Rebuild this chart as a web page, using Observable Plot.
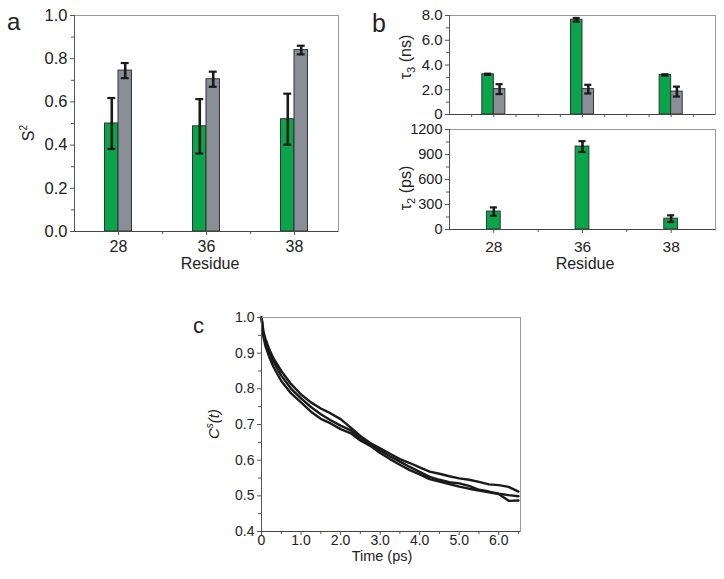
<!DOCTYPE html>
<html><head><meta charset="utf-8">
<script src="https://cdn.jsdelivr.net/npm/d3@7"></script>
<script src="https://cdn.jsdelivr.net/npm/@observablehq/plot@0.6"></script>
<style>
body{margin:0;background:#fff;font-family:"Liberation Sans",Arial,sans-serif;}
#root{position:relative;width:724px;height:579px;overflow:hidden;background:#fff;}
#root > svg{position:absolute;overflow:visible;}
#overlay{left:0;top:0;pointer-events:none;}
</style></head><body><div id="root"></div>
<script>
// ---------- data ----------
const residues = ["28", "36", "38"];
const s2Green = [0.50, 0.487, 0.52];
const s2GreenErr = [0.118, 0.126, 0.118];
const s2Grey = [0.745, 0.705, 0.84];
const s2GreyErr = [0.035, 0.035, 0.02];
const tau3Green = [3.25, 7.65, 3.2];
const tau3GreenErr = [0.05, 0.15, 0.05];
const tau3Grey = [2.05, 2.05, 1.85];
const tau3GreyErr = [0.4, 0.35, 0.4];
const tau2Green = [215, 995, 130];
const tau2GreenErr = [50, 65, 40];

const time = [0, 0.05, 0.1, 0.2, 0.3, 0.5, 0.75, 1.0, 1.25, 1.5, 1.75, 2.0, 2.25, 2.5, 2.75, 3.0, 3.25, 3.5, 3.75, 4.0, 4.25, 4.5, 4.75, 5.0, 5.25, 5.5, 5.75, 6.0, 6.25, 6.5];
const csA = [1.0, 0.96, 0.94, 0.91, 0.886, 0.85, 0.813, 0.784, 0.762, 0.745, 0.731, 0.715, 0.692, 0.668, 0.648, 0.633, 0.618, 0.603, 0.592, 0.58, 0.568, 0.562, 0.555, 0.549, 0.545, 0.539, 0.532, 0.53, 0.525, 0.512];
const csB = [1.0, 0.952, 0.93, 0.9, 0.876, 0.837, 0.8, 0.773, 0.749, 0.729, 0.712, 0.697, 0.684, 0.66, 0.645, 0.627, 0.611, 0.596, 0.581, 0.567, 0.553, 0.545, 0.538, 0.535, 0.528, 0.517, 0.512, 0.506, 0.502, 0.499];
const csC = [1.0, 0.945, 0.92, 0.888, 0.862, 0.822, 0.787, 0.762, 0.736, 0.716, 0.703, 0.687, 0.676, 0.655, 0.64, 0.62, 0.603, 0.587, 0.572, 0.56, 0.547, 0.54, 0.533, 0.526, 0.52, 0.515, 0.51, 0.505, 0.486, 0.487];

const GREEN = "#0aa54b", GREY = "#8a8f97", INK = "#1a1a1a";
const FONT = "Liberation Sans, Arial, sans-serif";
const root = document.getElementById("root");

// ---------- helpers ----------
function rows(vals, errs) {
  return residues.map((r, i) => ({pos: i + 1, v: vals[i], e: errs[i]}));
}
// side: -1 left of group centre, +1 right, 0 centred
function barMarks(data, side, w, color, cw) {
  const lo = d => d.pos + (side < 0 ? -w : side > 0 ? 0 : -w / 2);
  const hi = d => lo(d) + w;
  const c = d => lo(d) + w / 2;
  return [
    Plot.rectY(data, {x1: lo, x2: hi, y1: 0, y2: "v", fill: color, stroke: "#333", strokeWidth: 1}),
    Plot.ruleX(data, {x: c, y1: d => d.v - d.e, y2: d => d.v + d.e, stroke: INK, strokeWidth: 2.6}),
    Plot.ruleY(data, {y: d => d.v - d.e, x1: d => c(d) - cw, x2: d => c(d) + cw, stroke: INK, strokeWidth: 2.2}),
    Plot.ruleY(data, {y: d => d.v + d.e, x1: d => c(d) - cw, x2: d => c(d) + cw, stroke: INK, strokeWidth: 2.2})
  ];
}
function yAxes(major, minor, fmt, extra = {}) {
  return [
    Plot.axisY(minor, {tickSize: 3, tickFormat: () => "", label: null, stroke: "#555"}),
    Plot.axisY(major, {tickSize: 4, tickPadding: 3, tickFormat: fmt, label: null, stroke: "#555", fill: "#222", ...extra})
  ];
}
function place(svg, left, top) {
  svg.style.left = left + "px";
  svg.style.top = top + "px";
  root.appendChild(svg);
}
const f1 = d => d === 0 ? "0" : d3.format(".1f")(d);
const st = (fs) => ({fontFamily: FONT, fontSize: fs + "px", background: "transparent", color: "#222", overflow: "visible"});

// ---------- panel a ----------
const pa = Plot.plot({
  width: 360, height: 280,
  marginLeft: 74, marginRight: 22, marginTop: 15, marginBottom: 49,
  style: st(16),
  x: {domain: [0.5, 3.5]},
  y: {domain: [0, 1]},
  marks: [
    ...barMarks(rows(s2Green, s2GreenErr), -1, 0.153, GREEN, 0.045),
    ...barMarks(rows(s2Grey, s2GreyErr), 1, 0.153, GREY, 0.045),
    Plot.frame({stroke: "#999"}),
    Plot.ruleY([0], {stroke: "#444"}),
    Plot.ruleX([0.5], {stroke: "#555"}),
    ...yAxes([0, 0.2, 0.4, 0.6, 0.8, 1.0], [0.1, 0.3, 0.5, 0.7, 0.9], d => d3.format(".1f")(d), {fontSize: 16.5}),
    Plot.axisX([1.5, 2.5], {tickSize: 3, tickFormat: () => "", label: null, stroke: "#555"}),
    Plot.axisX([1, 2, 3], {tickSize: 4, tickPadding: 5, tickFormat: d => residues[d - 1], label: null, stroke: "#555", fill: "#222"})
  ]
});
place(pa, 0, 0);

// ---------- panel b (top) ----------
const pbt = Plot.plot({
  width: 364, height: 119,
  marginLeft: 89, marginRight: 9, marginTop: 15, marginBottom: 5,
  style: st(15),
  x: {domain: [0.5, 3.5]},
  y: {domain: [0, 8]},
  marks: [
    ...barMarks(rows(tau3Green, tau3GreenErr), -1, 0.13, GREEN, 0.04),
    ...barMarks(rows(tau3Grey, tau3GreyErr), 1, 0.13, GREY, 0.04),
    Plot.frame({stroke: "#999"}),
    Plot.ruleY([0], {stroke: "#444"}),
    Plot.ruleX([0.5], {stroke: "#555"}),
    ...yAxes([0, 2, 4, 6, 8], [1, 3, 5, 7], f1),
    Plot.axisX([0.75, 1, 1.25, 1.5, 1.75, 2, 2.25, 2.5, 2.75, 3, 3.25], {tickSize: 3, tickFormat: () => "", label: null, stroke: "#555"})
  ]
});
place(pbt, 360, 0);

// ---------- panel b (bottom) ----------
const pbb = Plot.plot({
  width: 364, height: 161,
  marginLeft: 89, marginRight: 9, marginTop: 10, marginBottom: 51,
  style: st(15.5),
  x: {domain: [0.5, 3.5]},
  y: {domain: [0, 1200]},
  marks: [
    ...barMarks(rows(tau2Green, tau2GreenErr), 0, 0.155, GREEN, 0.04),
    Plot.frame({stroke: "#999"}),
    Plot.ruleY([0], {stroke: "#444"}),
    Plot.ruleX([0.5], {stroke: "#555"}),
    ...yAxes([0, 300, 600, 900, 1200], [150, 450, 750, 1050], d => String(d), {fontSize: 14.5, letterSpacing: "-1.2px"}),
    Plot.axisX([1.5, 2.5], {tickSize: 3, tickFormat: () => "", label: null, stroke: "#555"}),
    Plot.axisX([1, 2, 3], {tickSize: 4, tickPadding: 7, tickFormat: d => residues[d - 1], label: null, stroke: "#555", fill: "#222"})
  ]
});
place(pbb, 360, 119);

// ---------- panel c ----------
const curves = [csA, csB, csC].flatMap((s, k) => time.map((t, i) => ({t, v: s[i], k})));
const pc = Plot.plot({
  width: 360, height: 279,
  marginLeft: 81, marginRight: 20, marginTop: 17, marginBottom: 48,
  style: st(14),
  x: {domain: [0, 6.55]},
  y: {domain: [0.4, 1.0]},
  marks: [
    Plot.line(curves, {x: "t", y: "v", z: "k", stroke: INK, strokeWidth: 2.4, strokeLinejoin: "round"}),
    Plot.frame({stroke: "#999"}),
    Plot.ruleY([0.4], {stroke: "#444"}),
    Plot.ruleX([0], {stroke: "#555"}),
    ...yAxes([0.4, 0.5, 0.6, 0.7, 0.8, 0.9, 1.0], [0.45, 0.55, 0.65, 0.75, 0.85, 0.95], d => d3.format(".1f")(d)),
    Plot.axisX([0.5, 1.5, 2.5, 3.5, 4.5, 5.5, 6.5], {tickSize: 3, tickFormat: () => "", label: null, stroke: "#555"}),
    Plot.axisX([0, 1, 2, 3, 4, 5, 6], {tickSize: 4, tickPadding: 0, tickFormat: f1, label: null, stroke: "#555", fill: "#222"})
  ]
});
place(pc, 180, 300);

// ---------- overlay text (panel letters, axis titles) ----------
const ov = d3.select(root).append("svg").attr("id", "overlay")
  .attr("width", 724).attr("height", 579)
  .style("font-family", FONT).style("fill", "#222");
function txt(x, y, size, rot, anchor = "middle") {
  const t = ov.append("text").attr("x", x).attr("y", y).attr("font-size", size)
    .attr("text-anchor", anchor);
  if (rot) t.attr("transform", `rotate(-90 ${x} ${y})`);
  return t;
}
txt(7, 30, 24, false, "start").text("a");
txt(372, 32, 25, false, "start").text("b");
txt(193, 333, 22, false, "start").text("c");
txt(210, 269, 16).text("Residue");
txt(585, 269, 16).text("Residue");
txt(382, 561, 14.5).text("Time (ps)");
// S^2
{const t = txt(34, 133, 16, true); t.append("tspan").text("S"); t.append("tspan").attr("font-size", 10).attr("dy", -7).text("2");}
// tau3 (ns)
{const t = txt(411, 57, 16, true); t.append("tspan").text("τ"); t.append("tspan").attr("font-size", 11).attr("dy", 4).text("3"); t.append("tspan").attr("dy", -4).text(" (ns)");}
// tau2 (ps)
{const t = txt(411, 188, 16, true); t.append("tspan").text("τ"); t.append("tspan").attr("font-size", 11).attr("dy", 4).text("2"); t.append("tspan").attr("dy", -4).text(" (ps)");}
// C^s(t)
{const t = txt(219, 424, 15, true).attr("font-style", "italic"); t.append("tspan").text("C"); t.append("tspan").attr("font-size", 10).attr("dy", -6).text("s"); t.append("tspan").attr("dy", 6).text("(t)");}
</script></body></html>
